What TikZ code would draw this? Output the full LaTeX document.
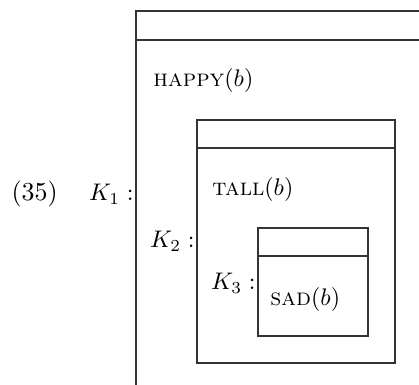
\documentclass[tikz,border=0pt]{standalone}
\begin{document}
\begin{tikzpicture}[x=0.4167pt,y=-0.4167pt]
\tikzset{
  box/.style={draw=black!80, line width=0.55pt},
  lbl/.style={inner sep=0pt, anchor=base west},
  klbl/.style={inner sep=0pt, anchor=base east}
}
\useasboundingbox (0,0) rectangle (419,385);
% outer box K1 (cut off at right and bottom)
\draw[box] (419,11) -- (136,11) -- (136,385);
\draw[box] (136,40) -- (419,40);
% middle box K2
\draw[box] (197,120) rectangle (395,363);
\draw[box] (197,148) -- (395,148);
% inner box K3
\draw[box] (258,228) rectangle (368,336);
\draw[box] (258,256) -- (368,256);
% labels
\node[lbl, scale=1.08] (num) at (11,201) {(35)};
\node[klbl] (k1) at (134,201) {$K_1:$};
\node[lbl] (happy) at (153,87) {\textsc{happy}$(b)$};
\node[lbl] (tall) at (212,196) {\textsc{tall}$(b)$};
\node[klbl] (k2) at (195,248) {$K_2:$};
\node[klbl] (k3) at (256,290) {$K_3:$};
\node[lbl] (sad) at (270,306) {\textsc{sad}$(b)$};
\end{tikzpicture}
\end{document}
